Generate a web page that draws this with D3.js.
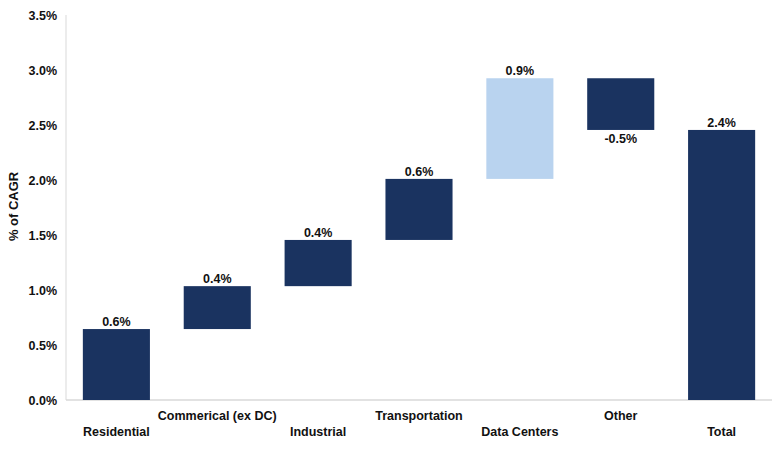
<!DOCTYPE html>
<html>
<head>
<meta charset="utf-8">
<script src="https://cdn.jsdelivr.net/npm/d3@7"></script>
<style>
  body { margin: 0; background: #fff; }
  text { font-family: "Liberation Sans", Arial, sans-serif; font-weight: bold; fill: #111; }
</style>
</head>
<body>
<script>
const width = 781;
const height = 453;

// data
const categories = ["Residential", "Commerical (ex DC)", "Industrial", "Transportation", "Data Centers", "Other", "Total"];
const deltas = [0.645, 0.39, 0.42, 0.555, 0.915, -0.47]; // % CAGR contributions
const valueLabels = ["0.6%", "0.4%", "0.4%", "0.6%", "0.9%", "-0.5%", "2.4%"];
const highlight = ["Data Centers"];
const yTicks = [0, 0.5, 1.0, 1.5, 2.0, 2.5, 3.0, 3.5];

const navy = "#1a3360";
const light = "#b9d3ef";

const margin = {top: 15, right: 9, bottom: 53, left: 66};

const svg = d3.select("body").append("svg").attr("width", width).attr("height", height);

// build waterfall steps
let run = 0;
const steps = deltas.map((d, i) => {
  const start = run;
  run += d;
  return {cat: categories[i], start: start, end: run, delta: d, label: valueLabels[i]};
});
steps.push({cat: categories[6], start: 0, end: run, delta: run, label: valueLabels[6]});

const x = d3.scaleBand()
  .domain(categories)
  .range([margin.left, width - margin.right])
  .paddingInner(0.335)
  .paddingOuter(0.167);

const y = d3.scaleLinear()
  .domain([0, 3.5])
  .range([height - margin.bottom, margin.top]);

// axis lines
svg.append("line")
  .attr("x1", margin.left).attr("x2", margin.left)
  .attr("y1", y(3.5)).attr("y2", y(0))
  .style("stroke", "#d9d9d9").style("stroke-width", 1);
svg.append("line")
  .attr("x1", margin.left).attr("x2", width - margin.right)
  .attr("y1", y(0)).attr("y2", y(0))
  .style("stroke", "#d9d9d9").style("stroke-width", 1.5);

// y tick labels
const yAxis = d3.axisLeft(y).tickValues(yTicks).tickFormat(d => d.toFixed(1) + "%").tickSize(0).tickPadding(9);
const gy = svg.append("g").attr("transform", `translate(${margin.left},0)`).call(yAxis);
gy.select(".domain").remove();
gy.selectAll("text").style("font-size", "12.5px").style("font-family", "Liberation Sans, Arial, sans-serif").style("font-weight", "bold").attr("fill", "#111");

// y title
svg.append("text")
  .attr("transform", `translate(18, ${y(1.76)}) rotate(-90)`)
  .attr("text-anchor", "middle")
  .style("font-size", "13px")
  .text("% of CAGR");

// bars
svg.selectAll("rect.bar")
  .data(steps)
  .enter()
  .append("rect")
  .attr("class", "bar")
  .attr("x", d => x(d.cat))
  .attr("width", x.bandwidth())
  .attr("y", d => y(Math.max(d.start, d.end)))
  .attr("height", d => Math.abs(y(d.start) - y(d.end)))
  .style("fill", d => highlight.includes(d.cat) ? light : navy);

// value labels
svg.selectAll("text.val")
  .data(steps)
  .enter()
  .append("text")
  .attr("class", "val")
  .attr("x", d => x(d.cat) + x.bandwidth() / 2)
  .attr("y", d => d.delta >= 0 ? y(d.end) - 3 : y(d.end) + 13)
  .attr("text-anchor", "middle")
  .style("font-size", "12.5px")
  .text(d => d.label);

// category labels, staggered
svg.selectAll("text.cat")
  .data(categories)
  .enter()
  .append("text")
  .attr("class", "cat")
  .attr("x", d => x(d) + x.bandwidth() / 2)
  .attr("y", (d, i) => i % 2 === 0 ? 436 : 420)
  .attr("text-anchor", "middle")
  .style("font-size", "12.5px")
  .text(d => d);
</script>
</body>
</html>
